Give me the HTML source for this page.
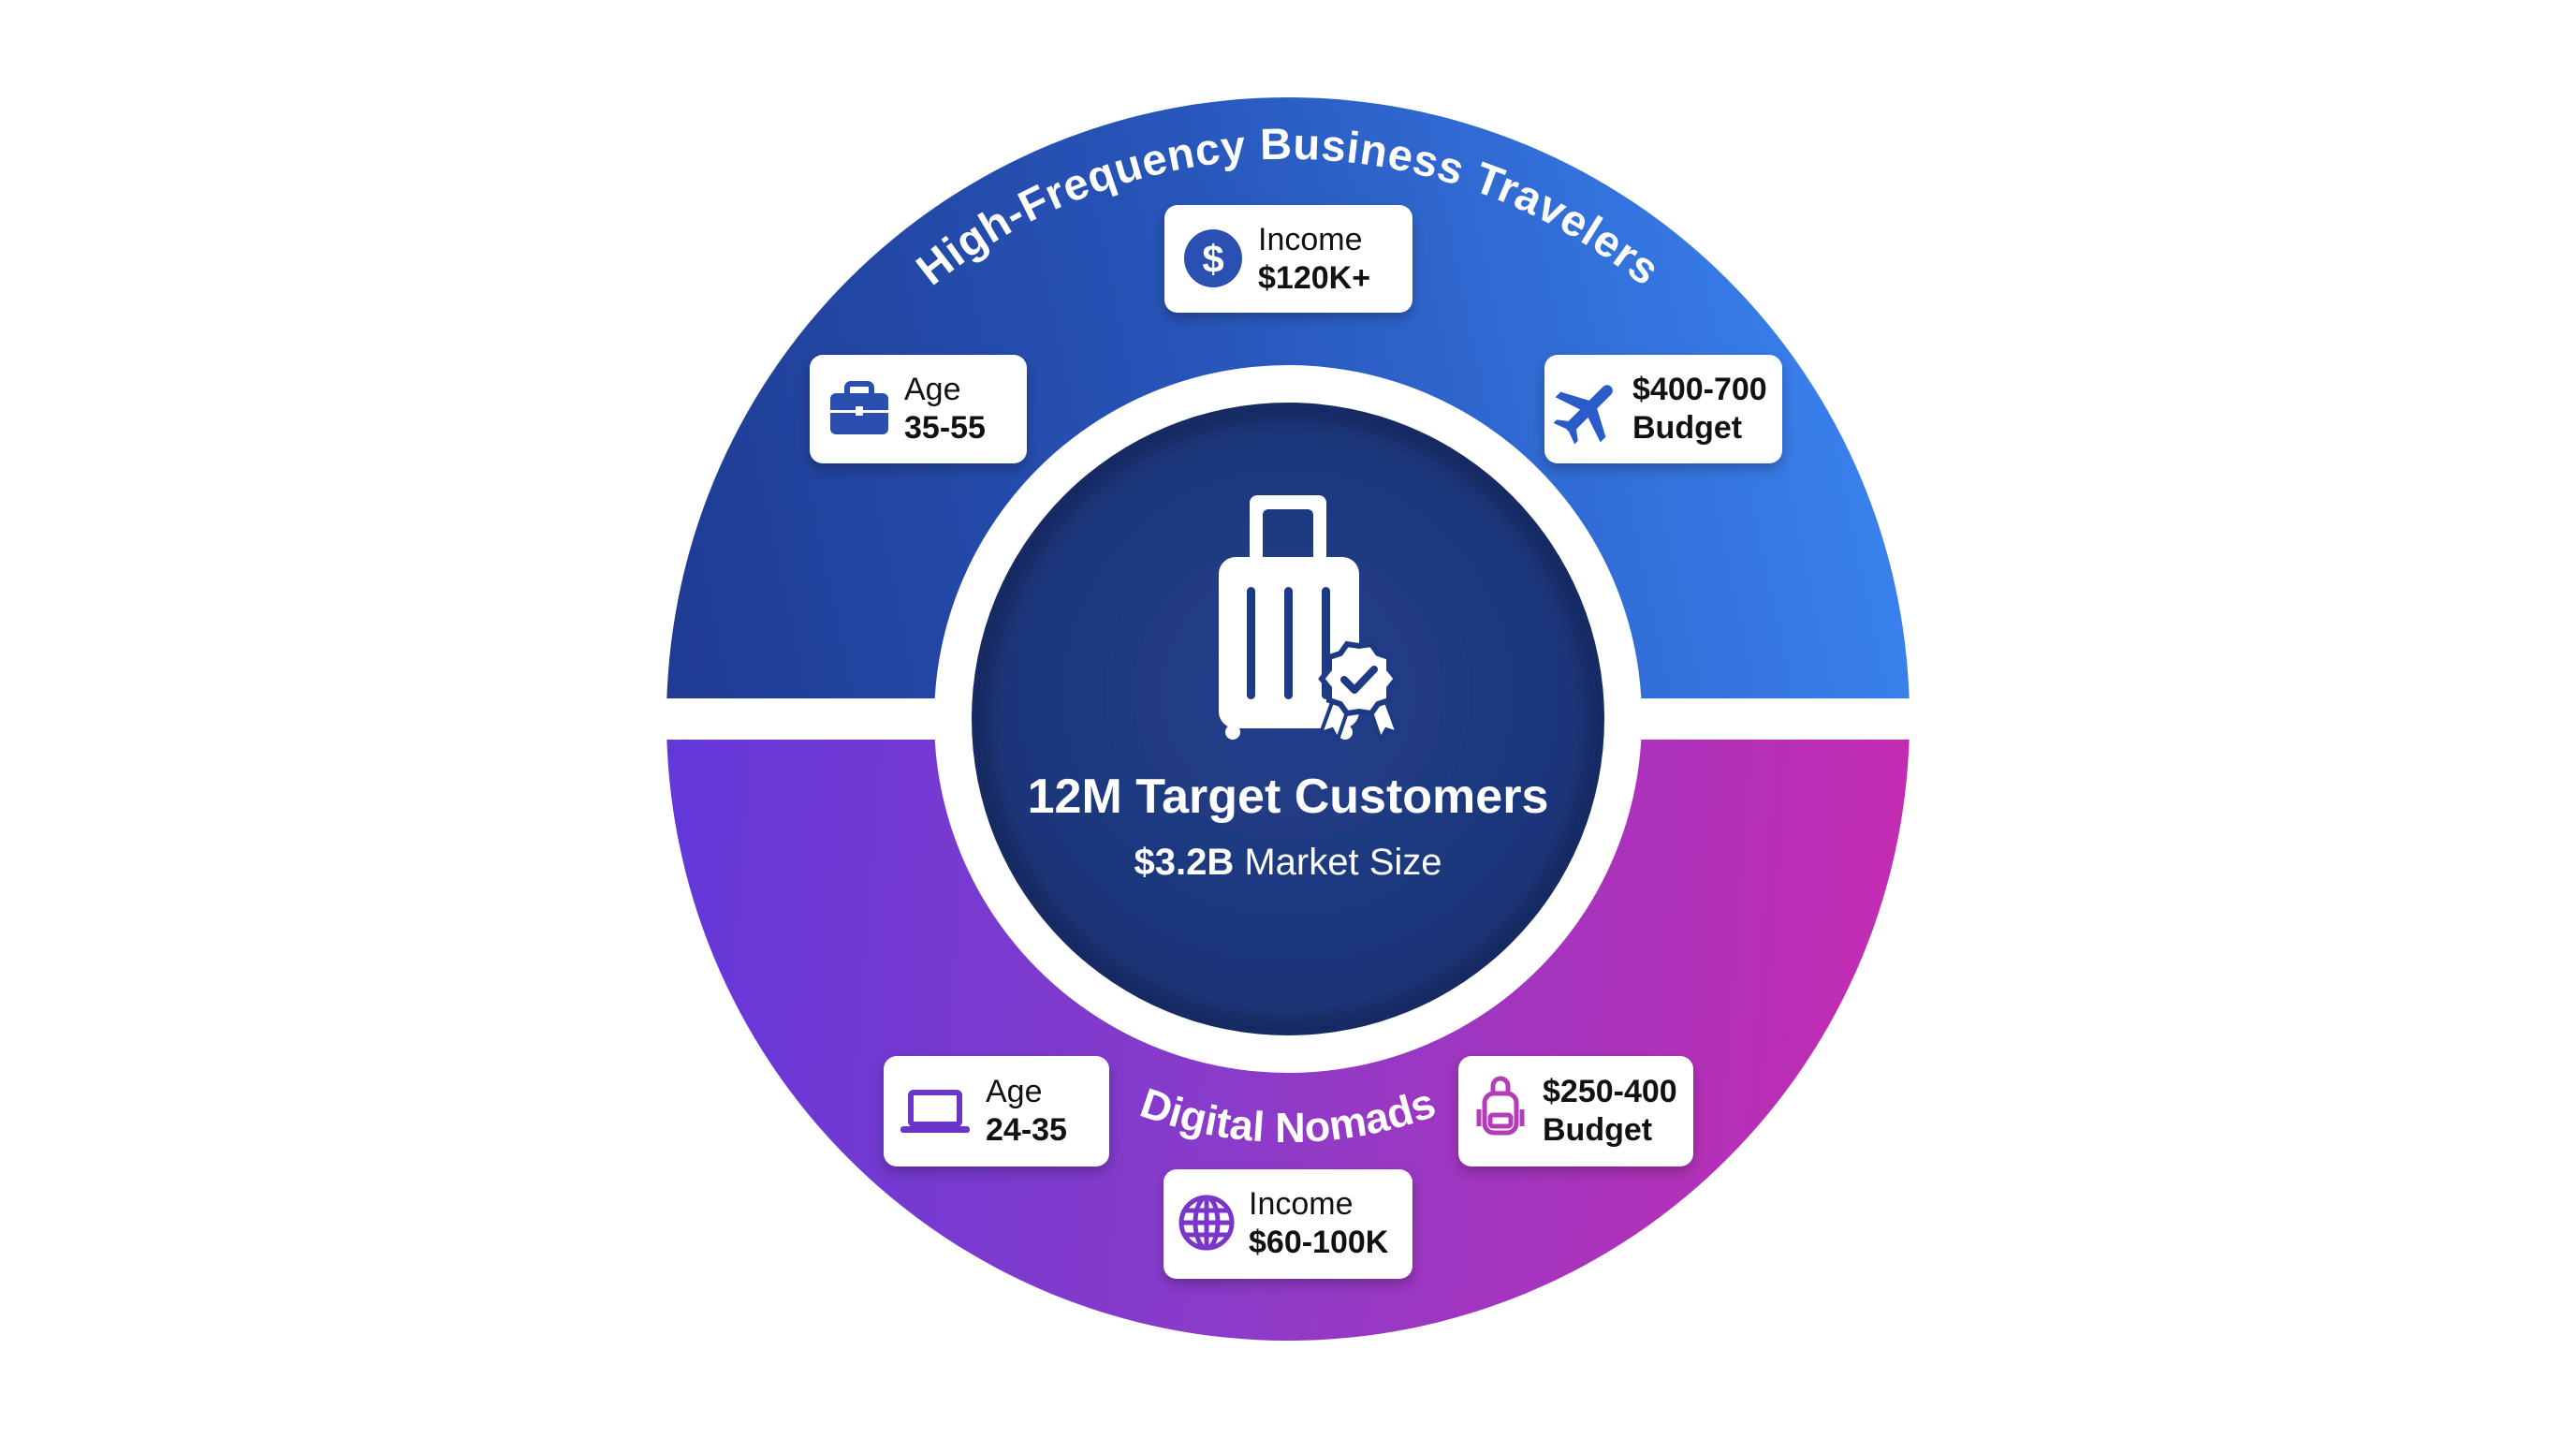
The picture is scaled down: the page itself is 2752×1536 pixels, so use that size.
<!DOCTYPE html>
<html><head><meta charset="utf-8"><style>
html,body{margin:0;padding:0;background:#fff;}
svg{display:block;}
text{font-family:"Liberation Sans",Arial,sans-serif;}
</style></head><body>
<svg width="2752" height="1536" viewBox="0 0 2752 1536" xmlns="http://www.w3.org/2000/svg">
<defs>
  <linearGradient id="gTop" x1="712" y1="700" x2="2040" y2="420" gradientUnits="userSpaceOnUse">
    <stop offset="0" stop-color="#1f3b93"/>
    <stop offset="0.45" stop-color="#2754b8"/>
    <stop offset="1" stop-color="#3b84f2"/>
  </linearGradient>
  <linearGradient id="gBot" x1="712" y1="800" x2="2040" y2="900" gradientUnits="userSpaceOnUse">
    <stop offset="0" stop-color="#6338d9"/>
    <stop offset="0.5" stop-color="#8d3bc8"/>
    <stop offset="1" stop-color="#c42cb2"/>
  </linearGradient>
  <radialGradient id="gCore" cx="1376" cy="740" r="330" gradientUnits="userSpaceOnUse">
    <stop offset="0" stop-color="#22408c"/>
    <stop offset="1" stop-color="#1d3578"/>
  </radialGradient>
  <clipPath id="cTop"><rect x="0" y="0" width="2752" height="746"/></clipPath>
  <clipPath id="cBot"><rect x="0" y="790" width="2752" height="800"/></clipPath>
  <filter id="sh" x="-20%" y="-20%" width="140%" height="150%">
    <feDropShadow dx="0" dy="6" stdDeviation="7" flood-color="#000" flood-opacity="0.25"/>
  </filter>
  <filter id="blur"><feGaussianBlur stdDeviation="8"/></filter>
  <path id="arcTop" d="M 858 469 A 598 598 0 0 1 1894 469"/>
  <path id="arcBot" d="M 984 994 A 453 453 0 0 0 1768 994"/>
</defs>

<circle cx="1376" cy="768" r="664" fill="url(#gTop)" clip-path="url(#cTop)"/>
<circle cx="1376" cy="768" r="664" fill="url(#gBot)" clip-path="url(#cBot)"/>
<circle cx="1376" cy="768" r="378" fill="#fff"/>
<circle cx="1376" cy="768" r="338" fill="#172a62"/>
<circle cx="1376" cy="768" r="318" fill="url(#gCore)" filter="url(#blur)"/>

<text font-size="47" font-weight="bold" fill="#fff" text-anchor="middle" textLength="825" lengthAdjust="spacing"><textPath href="#arcTop" startOffset="50%">High-Frequency Business Travelers</textPath></text>
<text font-size="45" font-weight="bold" fill="#fff" text-anchor="middle"><textPath href="#arcBot" startOffset="50%">Digital Nomads</textPath></text>

<g fill="#fff">
  <path d="M1343 529 h66 a8 8 0 0 1 8 8 v58 h-14 v-45 a6 6 0 0 0 -6 -6 h-42 a6 6 0 0 0 -6 6 v45 h-14 v-58 a8 8 0 0 1 8 -8z"/>
  <rect x="1302" y="595" width="150" height="183" rx="18"/>
  <circle cx="1317" cy="782" r="8"/>
  <circle cx="1437" cy="782" r="8"/>
</g>
<g fill="#1f3a84">
  <rect x="1332" y="627" width="9" height="120" rx="4.5"/>
  <rect x="1372" y="627" width="9" height="120" rx="4.5"/>
  <rect x="1412" y="627" width="9" height="120" rx="4.5"/>
</g>
<g>
  <path d="M1425 745 l-14 38 l12 -4 l6 11 l12 -35z M1479 745 l14 38 l-12 -4 l-6 11 l-12 -35z" fill="#fff" stroke="#1f3a84" stroke-width="4"/>
  <polygon fill="#fff" stroke="#1f3a84" stroke-width="6" points="
1492,725 1484,735 1484,748 1472,752 1465,762 1452,760 1439,762 1432,752 1420,748 1420,735 1412,725 1420,715 1420,702 1432,698 1439,688 1452,690 1465,688 1472,698 1484,702 1484,715"/>
  <path d="M1436 726 l11 11 l21 -22" fill="none" stroke="#1f3a84" stroke-width="8" stroke-linecap="round" stroke-linejoin="round"/>
</g>

<text x="1376" y="868" font-size="52" font-weight="bold" fill="#fff" text-anchor="middle">12M Target Customers</text>
<text x="1376" y="934" font-size="40" fill="#fff" text-anchor="middle"><tspan font-weight="bold">$3.2B</tspan> Market Size</text>

<g filter="url(#sh)" fill="#fff">
  <rect x="1244" y="219" width="265" height="115" rx="14"/>
  <rect x="865" y="379" width="232" height="116" rx="14"/>
  <rect x="1650" y="379" width="254" height="116" rx="14"/>
  <rect x="944" y="1128" width="241" height="118" rx="14"/>
  <rect x="1558" y="1128" width="251" height="118" rx="14"/>
  <rect x="1243" y="1249" width="266" height="117" rx="14"/>
</g>

<g font-size="34" fill="#111">
  <text x="1344" y="267">Income</text>
  <text x="1344" y="308" font-weight="bold">$120K+</text>
  <text x="966" y="427">Age</text>
  <text x="966" y="468" font-weight="bold">35-55</text>
  <text x="1744" y="427" font-weight="bold">$400-700</text>
  <text x="1744" y="468" font-weight="bold">Budget</text>
  <text x="1053" y="1177">Age</text>
  <text x="1053" y="1218" font-weight="bold">24-35</text>
  <text x="1648" y="1177" font-weight="bold">$250-400</text>
  <text x="1648" y="1218" font-weight="bold">Budget</text>
  <text x="1334" y="1297">Income</text>
  <text x="1334" y="1338" font-weight="bold">$60-100K</text>
</g>

<circle cx="1296" cy="276" r="31" fill="#2a50b2"/>
<text x="1296" y="291" font-size="42" font-weight="bold" fill="#fff" text-anchor="middle">$</text>

<g fill="#2a4fae">
  <rect x="905" y="410" width="26" height="14" rx="4" fill="none" stroke="#2a4fae" stroke-width="6"/>
  <rect x="887" y="420" width="62" height="44" rx="6"/>
  <rect x="887" y="438" width="62" height="3" fill="#fff"/>
  <rect x="914" y="434" width="8" height="10" rx="1" fill="#fff"/>
</g>

<g transform="translate(1697,437) rotate(45)" fill="#2a5cc9">
  <rect x="-6" y="-34" width="12" height="66" rx="6"/>
  <path d="M-4 -8 L-34 8 V16 L-4 6z M4 -8 L34 8 V16 L4 6z"/>
  <path d="M-3 22 L-16 32 V37 L0 31z M3 22 L16 32 V37 L0 31z"/>
</g>

<g>
  <rect x="973" y="1167" width="52" height="34" rx="3" fill="none" stroke="#6a35c9" stroke-width="6"/>
  <rect x="962" y="1203" width="74" height="7" rx="3" fill="#6a35c9"/>
</g>

<g fill="none" stroke="#b43cb8" stroke-width="5">
  <rect x="1586" y="1168" width="34" height="42" rx="10"/>
  <path d="M1595 1168 v-8 a8 8 0 0 1 16 0 v8"/>
  <rect x="1592" y="1191" width="22" height="12" rx="3"/>
  <path d="M1580 1185 v18 M1626 1185 v18"/>
</g>

<g fill="none" stroke="#7a35c9" stroke-width="5">
  <circle cx="1289" cy="1306" r="27"/>
  <ellipse cx="1289" cy="1306" rx="12" ry="27"/>
  <path d="M1262 1306 h54 M1266 1293 h46 M1266 1319 h46 M1289 1279 v54"/>
</g>
</svg>
</body></html>
